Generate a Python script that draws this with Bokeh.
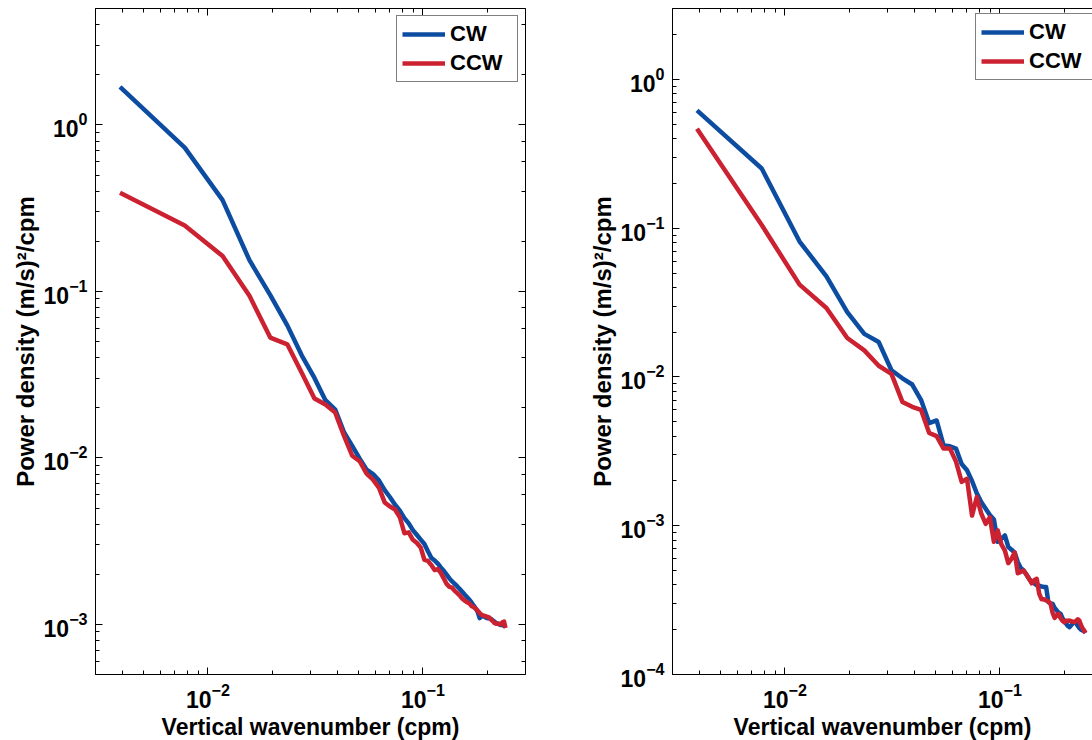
from bokeh.plotting import figure
from bokeh.layouts import row
from bokeh.models import (LogAxis, Legend, LegendItem, Range1d, FixedTicker,
                          CustomJSTickFormatter)
from bokeh.embed import file_html
from bokeh.resources import INLINE

# ---------------- data ----------------
wavenumber = [0.0039, 0.0078, 0.0117, 0.0156, 0.0195, 0.0234, 0.0273, 0.0313, 0.0352, 0.0391,
              0.0430, 0.0469, 0.0508, 0.0547, 0.0586, 0.0625, 0.0664, 0.0703, 0.0742, 0.0781,
              0.0820, 0.0859, 0.0898, 0.0938, 0.0977, 0.1016, 0.1055, 0.1094, 0.1133, 0.1172,
              0.1211, 0.1250, 0.1289, 0.1328, 0.1367, 0.1406, 0.1445, 0.1484, 0.1523, 0.1563,
              0.1602, 0.1641, 0.1680, 0.1719, 0.1758, 0.1797, 0.1836, 0.1875, 0.1914, 0.1953,
              0.1992, 0.2031, 0.2070, 0.2109, 0.2148, 0.2188, 0.2227, 0.2266, 0.2305, 0.2344,
              0.2383, 0.2422, 0.2461, 0.2500]

cw_left = [1.69, 0.73, 0.353, 0.154, 0.095, 0.0625, 0.0413, 0.0302, 0.0222, 0.0195,
           0.0142, 0.0118, 0.0099, 0.0085, 0.0080, 0.0073, 0.0064, 0.0058, 0.00523, 0.00482,
           0.00435, 0.00404, 0.00368, 0.00344, 0.00323, 0.00304, 0.00275, 0.00251, 0.00242, 0.00232,
           0.0022, 0.0021, 0.00199, 0.00189, 0.00181, 0.00175, 0.00169, 0.00163, 0.00157, 0.00151,
           0.00146, 0.00141, 0.00136, 0.0013, 0.00125, 0.00119, 0.00109, 0.00112, 0.00112, 0.0011,
           0.00109, 0.00109, 0.00108, 0.00106, 0.00104, 0.00102, 0.00101, 0.0010, 0.00099, 0.00099,
           0.00098, 0.00097]
ccw_left = [0.391, 0.249, 0.163, 0.094, 0.0528, 0.0481, 0.0325, 0.0227, 0.0209, 0.0187,
            0.0135, 0.0103, 0.00955, 0.00804, 0.0074, 0.0066, 0.0054, 0.0051, 0.0049, 0.0044,
            0.00353, 0.00357, 0.00322, 0.00308, 0.00289, 0.00244, 0.00241, 0.00227, 0.00212, 0.00215,
            0.00204, 0.00189, 0.00175, 0.00168, 0.00166, 0.00159, 0.00154, 0.00149, 0.00143, 0.00139,
            0.00136, 0.00134, 0.00129, 0.00127, 0.00124, 0.00121, 0.00117, 0.00114, 0.00113, 0.00112,
            0.00111, 0.0011, 0.00107, 0.00105, 0.00102, 0.00101, 0.00101, 0.00101, 0.0010, 0.00103,
            0.00104, 0.00095]

cw_right = [0.62, 0.252, 0.0814, 0.0475, 0.0273, 0.0195, 0.0172, 0.0111, 0.0098, 0.0089,
            0.0070, 0.0049, 0.0051, 0.00347, 0.00342, 0.0033, 0.0026, 0.00236, 0.0020, 0.00165,
            0.00144, 0.0013, 0.00118, 0.0011, 0.00078, 0.00082, 0.00086, 0.00072, 0.00069, 0.00066,
            0.00057, 0.00052, 0.0005, 0.00047, 0.00044, 0.00042, 0.00041, 0.000398, 0.000395, 0.00039,
            0.000388, 0.000387, 0.000307, 0.0003, 0.000299, 0.00028, 0.00027, 0.00026, 0.000256, 0.00024,
            0.00023, 0.00022, 0.000212, 0.000208, 0.000215, 0.000222, 0.000225, 0.00022, 0.000212, 0.000205,
            0.0002, 0.000198, 0.000196, 0.00019]
ccw_right = [0.467, 0.105, 0.0418, 0.0291, 0.0183, 0.0151, 0.0119, 0.0105, 0.0068, 0.0063,
             0.0060, 0.0042, 0.0040, 0.0033, 0.0033, 0.0027, 0.00197, 0.00207, 0.00117, 0.00156,
             0.0012, 0.00103, 0.00114, 0.00078, 0.00093, 0.00075, 0.00068, 0.00056, 0.0006, 0.00066,
             0.00048, 0.00049, 0.0005, 0.00047, 0.00044, 0.00041, 0.00043, 0.00044, 0.00035, 0.00032,
             0.00032, 0.000315, 0.00031, 0.0003, 0.00026, 0.00024, 0.00025, 0.000256, 0.00024, 0.00023,
             0.000225, 0.00023, 0.00023, 0.000231, 0.000228, 0.000226, 0.000225, 0.00023, 0.000235, 0.00023,
             0.000215, 0.000205, 0.000198, 0.00019]

series_labels = ["CW", "CCW"]
x_label = "Vertical wavenumber (cpm)"
y_label = "Power density (m/s)\u00b2/cpm"
x_major_ticks = [0.01, 0.1]
x_minor_ticks = [0.003, 0.004, 0.005, 0.006, 0.007, 0.008, 0.009,
                 0.02, 0.03, 0.04, 0.05, 0.06, 0.07, 0.08, 0.09, 0.2, 0.3]

# ---------------- style ----------------
FONT = "Liberation Sans"
BLUE = "#0C4DA2"
RED = "#CB2131"
FRAME_H = 666


def style_axis(ax, labelled):
    ax.axis_line_color = "black"
    ax.axis_line_width = 1
    ax.major_tick_line_color = "black"
    ax.minor_tick_line_color = "black"
    ax.major_tick_in = 7
    ax.major_tick_out = 0
    ax.minor_tick_in = 4
    ax.minor_tick_out = 0
    ax.major_label_text_font = FONT
    ax.major_label_text_font_style = "bold"
    ax.major_label_text_color = "black"
    ax.axis_label_text_font = FONT
    ax.axis_label_text_font_style = "bold"
    ax.axis_label_text_color = "black"
    ax.axis_label_text_font_size = "23px"
    if labelled:
        ax.major_label_text_font_size = "23px"
        ax.major_label_standoff = 8
    else:
        ax.formatter = CustomJSTickFormatter(code="return ''")
        ax.major_label_text_font_size = "1px"
        ax.major_label_standoff = 0


def make_panel(k, cw, ccw, y_lo, y_hi, x_hi, frame_w, border_l, border_r, right_axis, legend_loc):
    p = figure(x_axis_type="log", y_axis_type="log",
               x_range=Range1d(0.003, x_hi), y_range=Range1d(y_lo, y_hi),
               frame_width=frame_w, frame_height=FRAME_H,
               min_border_left=border_l, min_border_right=border_r,
               min_border_top=8, min_border_bottom=64,
               output_backend="svg", toolbar_location=None,
               background_fill_color="white", border_fill_color="white",
               outline_line_color=None)
    p.grid.visible = False

    top = LogAxis()
    p.add_layout(top, "above")
    xt = FixedTicker(ticks=x_major_ticks, minor_ticks=x_minor_ticks)
    p.below[0].ticker = xt
    top.ticker = xt
    if right_axis:
        rax = LogAxis()
        p.add_layout(rax, "right")
        style_axis(rax, False)
    style_axis(top, False)
    style_axis(p.below[0], True)
    style_axis(p.left[0], True)
    p.below[0].axis_label = x_label
    p.below[0].axis_label_standoff = 3
    p.left[0].axis_label = y_label
    p.left[0].axis_label_standoff = 2
    p.left[0].axis_label_text_font_size = "24px"

    r1 = p.line(k[:len(cw)], cw, line_color=BLUE, line_width=4.5, line_join="round")
    r2 = p.line(k[:len(ccw)], ccw, line_color=RED, line_width=4.5, line_join="round")

    legend = Legend(items=[LegendItem(label=series_labels[0], renderers=[r1]),
                           LegendItem(label=series_labels[1], renderers=[r2])],
                    location=legend_loc)
    legend.label_text_font = FONT
    legend.label_text_font_style = "bold"
    legend.label_text_font_size = "22px"
    legend.label_text_color = "black"
    legend.border_line_color = "black"
    legend.border_line_width = 1
    legend.background_fill_color = "white"
    legend.background_fill_alpha = 1
    legend.padding = 5
    legend.spacing = 3
    legend.margin = 7
    legend.glyph_width = 43
    legend.glyph_height = 24
    legend.label_height = 24
    legend.label_width = 62
    legend.label_standoff = 5
    p.add_layout(legend)
    return p


p_left = make_panel(wavenumber, cw_left, ccw_left, 5e-4, 5, 0.3, 430, 95, 10, True, "top_right")
p_right = make_panel(wavenumber, cw_right, ccw_right, 1e-4, 3, 0.2696, 420, 137, 0, False, (303, 594))

layout = row(p_left, p_right)
open("out.html", "w").write(file_html(layout, INLINE))
